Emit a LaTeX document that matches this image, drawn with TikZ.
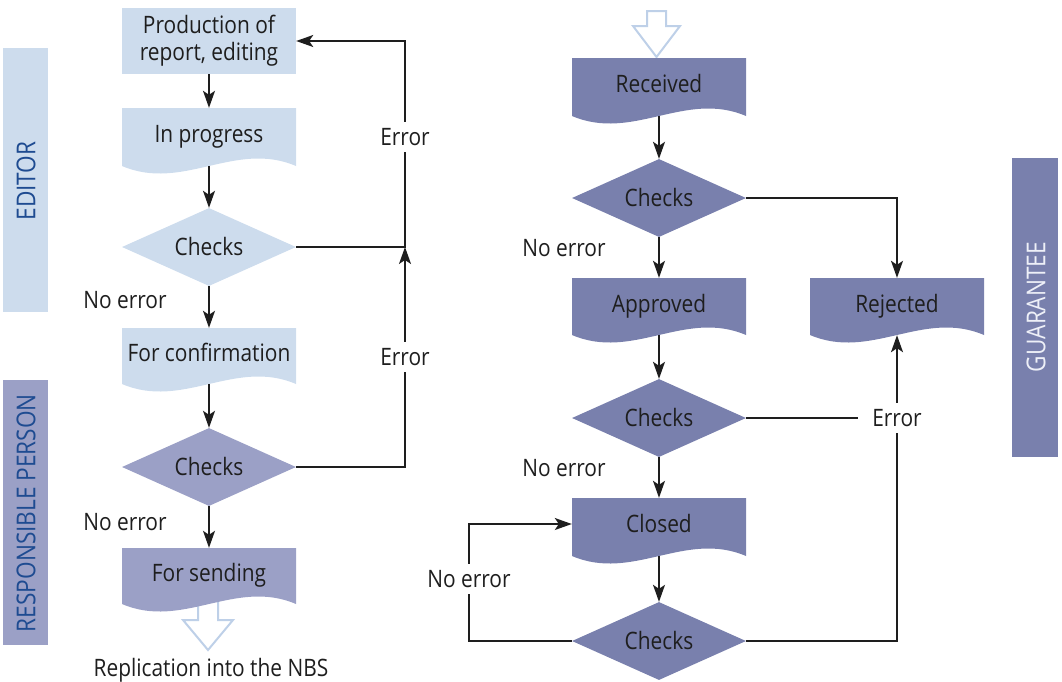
\documentclass[tikz,border=0pt]{standalone}
\usepackage{fontspec}
\setmainfont{Open Sans}[FakeStretch=0.87]
\usetikzlibrary{shapes.geometric,arrows.meta}
\definecolor{lblue}{RGB}{205,220,237}
\definecolor{mpurple}{RGB}{155,160,198}
\definecolor{dpurple}{RGB}{121,128,173}
\definecolor{sidetxt}{RGB}{30,75,145}
\definecolor{gtxt}{RGB}{238,240,248}
\definecolor{hollow}{RGB}{190,208,232}
\definecolor{ink}{RGB}{30,30,30}
\newcommand\mainsz{\fontsize{24}{27}\selectfont}
\newcommand\docbox[6]{% name, x, ytop, ybottom, colour, text
  \pgfmathsetmacro\dbL{#2-87}\pgfmathsetmacro\dbR{#2+87}%
  \pgfmathsetmacro\dbA{#2+87-0.35*174}\pgfmathsetmacro\dbB{#2-87+0.35*174}%
  \fill[#5] (\dbL,#3) -- (\dbR,#3) -- (\dbR,#4) .. controls (\dbA,{#4-26}) and (\dbB,{#4+26}) .. (\dbL,#4) -- cycle;
  \node[docnode] (#1) at (#2,{(#3+#4)/2}) [minimum height={#4-#3}] {#6};}
\tikzset{
  docnode/.style={rectangle, minimum width=174pt, inner sep=0pt, text height=15pt, text depth=4pt, font=\mainsz, text=ink},
  chk/.style={diamond, aspect=2.23, minimum width=174pt, minimum height=78pt, inner sep=0pt, text height=17pt, text depth=0pt, font=\mainsz, text=ink},
  lbl/.style={font=\mainsz, text=ink, inner sep=0pt},
  gaplbl/.style={lbl, fill=white, inner xsep=14pt, inner ysep=6pt},
  arr/.style={draw=ink, line width=1.5pt, -{Stealth[length=17pt,width=12pt,inset=4pt]}},
  ln/.style={draw=ink, line width=1.5pt},
  side/.style={font=\fontsize{26}{29}\selectfont, rotate=90, inner sep=0pt},
  hollowarrow/.style={draw=hollow, fill=white, line width=2pt, line join=miter}
}
\begin{document}
\begin{tikzpicture}[x=1pt,y=-1pt]
\useasboundingbox (0,0) rectangle (1062,681);
% side bars
\fill[lblue] (3,48) rectangle (48,312);
\node[side, text=sidetxt] (editor) at (26,181) {EDITOR};
\fill[mpurple] (3,380) rectangle (48,645);
\node[side, text=sidetxt] (resp) at (26,513) {RESPONSIBLE PERSON};
\fill[dpurple] (1012,158) rectangle (1058,457);
\node[side, text=gtxt] (guar) at (1036,307) {GUARANTEE};

% hollow arrows
\draw[hollowarrow] (198,590) -- (218,590) -- (218,620) -- (233,620) -- (208,650) -- (183,620) -- (198,620) -- cycle;
\draw[hollowarrow] (647,11) -- (666,11) -- (666,26) -- (680,26) -- (656.5,57) -- (633,26) -- (647,26) -- cycle;

% left column
\node[rectangle, fill=lblue, minimum width=174pt, minimum height=66pt, inner sep=0pt, align=center, font=\mainsz, text=ink] (prod) at (209,41) {Production of\\report, editing};
\docbox{inprog}{209}{108}{166}{lblue}{In progress}
\node[chk, fill=lblue] (d1) at (209,247) {Checks};
\docbox{confirm}{209}{328}{384}{lblue}{For confirmation}
\node[chk, fill=mpurple] (d2) at (209,467) {Checks};
\docbox{sending}{209}{548}{604}{mpurple}{For sending}
\node[lbl, anchor=base] (nbs) at (211,676) {Replication into the NBS};

\draw[arr] (prod.south) -- (inprog.north);
\draw[arr] (inprog.south) -- (d1.north);
\draw[arr] (d1.south) -- (confirm.north);
\draw[arr] (confirm.south) -- (d2.north);
\draw[arr] (d2.south) -- (sending.north);
\node[lbl] (ne1) at (125,300) {No error};
\node[lbl] (ne2) at (125,522) {No error};
\coordinate (cl) at (405,0);
\draw[arr] (d1.east) -- (d1.east -| cl) |- (prod.east);
\draw[arr] (d2.east) -- (d2.east -| cl) -- (d1.east -| cl);
\node[gaplbl] (err1) at (405,137) {Error};
\node[gaplbl] (err2) at (405,357) {Error};

% right column
\docbox{received}{659}{58}{116}{dpurple}{Received}
\node[chk, fill=dpurple] (r1) at (659,198) {Checks};
\docbox{approved}{659}{278}{335}{dpurple}{Approved}
\docbox{rejected}{897}{278}{335}{dpurple}{Rejected}
\node[chk, fill=dpurple] (r2) at (659,418) {Checks};
\docbox{closed}{659}{498}{556}{dpurple}{Closed}
\node[chk, fill=dpurple] (r3) at (659,641) {Checks};

\draw[arr] (received.south) -- (r1.north);
\draw[arr] (r1.south) -- (approved.north);
\draw[arr] (r1.east) -| (rejected.north);
\draw[arr] (approved.south) -- (r2.north);
\draw[arr] (r2.south) -- (closed.north);
\draw[arr] (closed.south) -- (r3.north);
\draw[arr] (r3.east) -| (rejected.south);
\coordinate (cr) at (469,0);
\draw[arr] (r3.west) -- (r3.west -| cr) |- ([yshift=3pt]closed.west);
\node[lbl] (ne3) at (564,248) {No error};
\node[lbl] (ne4) at (564,468) {No error};
\node[gaplbl] (err3) at (897,418) {Error};
\draw[ln] (r2.east) -- (err3.west);
\node[gaplbl] (ne5) at (469,579) {No error};
\end{tikzpicture}
\end{document}
